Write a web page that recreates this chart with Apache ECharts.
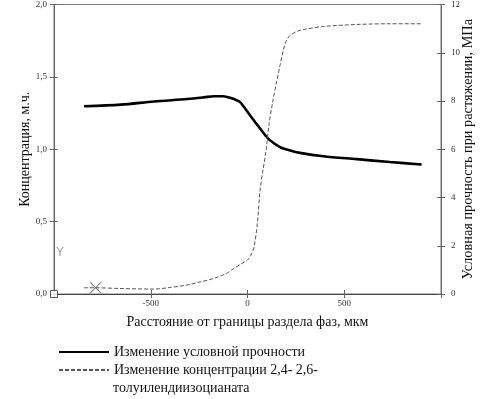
<!DOCTYPE html>
<html><head><meta charset="utf-8">
<script src="https://cdn.jsdelivr.net/npm/echarts@6/dist/echarts.min.js"></script>
<style>html,body{margin:0;padding:0;background:#fff}#c{width:494px;height:399px}</style>
</head><body><div id="c"></div>
<script>
// Distance from phase boundary, µm
const strengthX = [-845,-655,-483,-311,-225,-173,-130,-100,-70,-39,-18,13,40,65,90,116,168,220,271,392,564,736,900];
// Conditional tensile strength, MPa (right axis)
const strengthY = [7.78,7.85,7.98,8.08,8.15,8.2,8.2,8.16,8.08,7.96,7.75,7.41,7.12,6.86,6.6,6.37,6.09,5.95,5.85,5.71,5.59,5.47,5.37];
const concX = [-845,-785,-659,-483,-401,-313,-245,-173,-111,-70,-34,-1,18,34,51,65,80,96,111,132,151,168,185,199,220,261,306,392,564,736,900];
// Concentration of 2,4-/2,6-TDI, m.ch. (left axis)
const concY = [0.043,0.043,0.038,0.034,0.045,0.062,0.083,0.108,0.141,0.177,0.207,0.234,0.269,0.326,0.488,0.717,0.855,0.993,1.17,1.34,1.47,1.58,1.683,1.745,1.786,1.817,1.831,1.848,1.862,1.867,1.867];
const xTicks = [-500, 0, 500];
const leftTicks = [0, 0.5, 1, 1.5, 2];
const rightTicks = [0, 2, 4, 6, 8, 10, 12];
const nameStrength = 'Изменение условной прочности';
const nameConc = 'Изменение концентрации 2,4- 2,6-толуилендиизоцианата';
const concMarker = [-785, 0.043];
const originMarker = [-1000, 0];
const yMarker = [-969, 0.285];

const serif = "'Liberation Serif','Times New Roman',serif";
const axisColor = '#666';
const chart = echarts.init(document.getElementById('c'));
const yBase = (pos, min, max, interval, inside, labels, fmt) => ({
  type: 'value', position: pos, min, max, interval,
  axisLine: {show: true, onZero: false, lineStyle: {color: axisColor, width: 1}},
  axisTick: {show: true, inside, length: 4, lineStyle: {color: axisColor}},
  axisLabel: {show: labels, fontFamily: serif, fontSize: 9, color: '#333', margin: pos === 'left' ? 7 : 10, formatter: fmt},
  splitLine: {show: false}
});
const yL = yBase('left', leftTicks[0], leftTicks[leftTicks.length-1], 0.5, false, true, v => v.toFixed(1).replace('.', ','));
Object.assign(yL, {name: 'Концентрация, м.ч.', nameLocation: 'middle', nameGap: 22, nameRotate: 90, nameMoveOverlap: false,
  nameTextStyle: {fontFamily: serif, fontSize: 14, color: '#111'}});
const yR = yBase('right', rightTicks[0], rightTicks[rightTicks.length-1], 2, false, true, v => String(v));
Object.assign(yR, {name: 'Условная прочность при растяжении, МПа', nameLocation: 'middle', nameGap: 20, nameRotate: 90, nameMoveOverlap: false,
  nameTextStyle: {fontFamily: serif, fontSize: 14.3, color: '#111'}});
const yL2 = yBase('left', 0, 2, 0.5, true, false);
const yR2 = yBase('right', 0, 12, 2, true, false);

const xBase = (inside, labels) => ({
  type: 'value', position: 'bottom', min: -1000, max: 1000, interval: 500,
  axisLine: {show: true, onZero: false, lineStyle: {color: '#444', width: 1}},
  axisTick: {show: true, inside, length: 4, lineStyle: {color: axisColor}},
  axisLabel: {show: labels, fontFamily: serif, fontSize: 9, color: '#333', margin: 5,
    formatter: v => xTicks.indexOf(v) >= 0 ? String(v) : ''},
  splitLine: {show: false}
});
const x1 = xBase(false, true);
Object.assign(x1, {name: 'Расстояние от границы раздела фаз, мкм', nameLocation: 'middle', nameGap: 21, nameMoveOverlap: false,
  nameTextStyle: {fontFamily: serif, fontSize: 14, color: '#111'}});
const x2 = xBase(true, false);

chart.setOption({
  animation: false,
  backgroundColor: '#fff',
  grid: {left: 54, right: 53, top: 4, bottom: 105, show: true, borderColor: '#777', borderWidth: 1, backgroundColor: '#fff'},
  xAxis: [x1, x2],
  yAxis: [yL, yR, yL2, yR2],
  legend: {
    data: [nameStrength, nameConc], orient: 'vertical', left: 53, top: 340,
    itemWidth: 50, itemHeight: 14, itemGap: 4,
    itemStyle: {opacity: 0},
    textStyle: {fontFamily: serif, fontSize: 14, color: '#111'},
    formatter: n => n === nameConc ? 'Изменение концентрации 2,4- 2,6-' : n
  },
  graphic: [{type: 'text', left: 113, top: 381, style: {text: 'толуилендиизоцианата', font: "14px 'Liberation Serif'", fill: '#111'}}],
  series: [
    {name: nameStrength, type: 'line', xAxisIndex: 0, yAxisIndex: 1, showSymbol: false, symbol: 'none', smooth: 0.3,
     data: strengthX.map((x, i) => [x, strengthY[i]]),
     lineStyle: {color: '#000', width: 2.6}, itemStyle: {color: '#000'}},
    {name: nameConc, type: 'line', xAxisIndex: 0, yAxisIndex: 0, showSymbol: false, symbol: 'none', smooth: 0.3,
     data: concX.map((x, i) => [x, concY[i]]),
     lineStyle: {color: '#555', width: 1, type: [4, 2]}, itemStyle: {color: '#555'},
     markPoint: {symbol: 'path://M0,0L10,10M10,0L0,10', symbolSize: 11, silent: true,
       itemStyle: {color: 'none', borderColor: '#555', borderWidth: 1}, label: {show: false},
       data: [{coord: concMarker}]}},
    {name: 'origin', type: 'scatter', xAxisIndex: 0, yAxisIndex: 0, symbol: 'rect', symbolSize: 7,
     itemStyle: {color: '#fff', borderColor: '#333', borderWidth: 1}, data: [originMarker], silent: true},
    {name: 'ylabel', type: 'scatter', xAxisIndex: 0, yAxisIndex: 0, symbolSize: 0,
     label: {show: true, position: 'inside', formatter: 'Y', fontFamily: "'DejaVu Sans'", fontSize: 12, color: '#888'},
     data: [yMarker], silent: true}
  ]
});
</script></body></html>
